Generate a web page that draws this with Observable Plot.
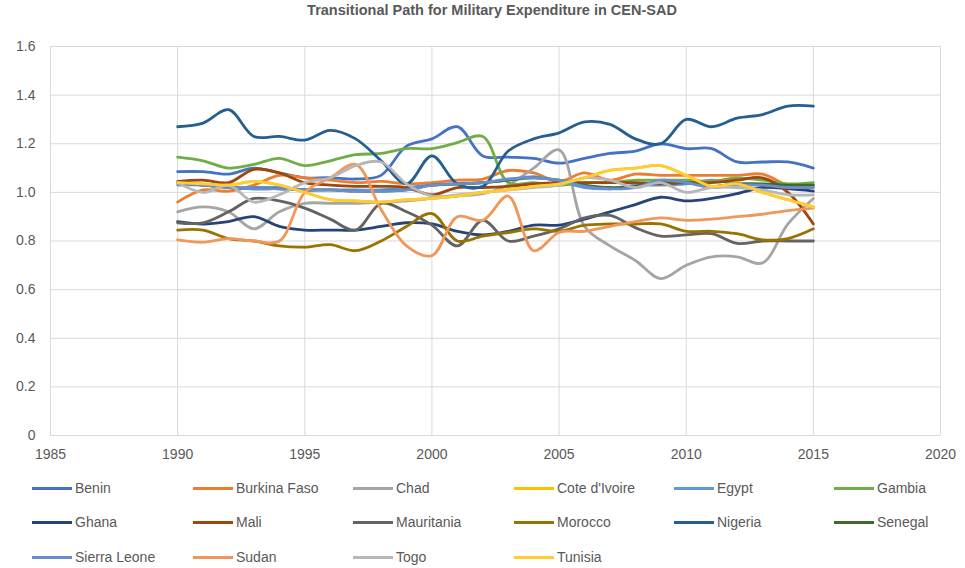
<!DOCTYPE html>
<html>
<head>
<meta charset="utf-8">
<script src="https://cdn.jsdelivr.net/npm/d3@7"></script>
<script src="https://cdn.jsdelivr.net/npm/@observablehq/plot@0.6"></script>
<style>
  body { margin: 0; background: #fff; font-family: "Liberation Sans", Arial, sans-serif; }
  #wrap { position: relative; width: 965px; height: 568px; }
  #title { position: absolute; top: 2px; left: 0; width: 984px; text-align: center; font-weight: bold; font-size: 14.5px; color: #595959; }
  #chart { position: absolute; top: 25px; left: 0; }
  .leg { position: absolute; display: flex; align-items: center; font-size: 14px; color: #595959; white-space: nowrap; }
  .leg span.sw { display: inline-block; width: 40px; height: 3px; margin-right: 3px; }
</style>
</head>
<body>
<div id="wrap">
  <div id="title">Transitional Path for Military Expenditure in CEN-SAD</div>
  <div id="chart"></div>
  <div id="legend"></div>
</div>
<script>
const years = [1990,1991,1992,1993,1994,1995,1996,1997,1998,1999,2000,2001,2002,2003,2004,2005,2006,2007,2008,2009,2010,2011,2012,2013,2014,2015];
const xTicks = [1985,1990,1995,2000,2005,2010,2015,2020];
const yTicks = [0,0.2,0.4,0.6,0.8,1.0,1.2,1.4,1.6];

const countries = ["Benin","Burkina Faso","Chad","Cote d'Ivoire","Egypt","Gambia","Ghana","Mali","Mauritania","Morocco","Nigeria","Senegal","Sierra Leone","Sudan","Togo","Tunisia"];
const colors = ["#4472C4","#ED7D31","#A5A5A5","#FFC000","#5B9BD5","#70AD47","#264478","#9E480E","#636363","#997300","#255E91","#43682B","#698ED0","#F1975A","#B7B7B7","#FFCD33"];

const benin       = [1.085,1.085,1.075,1.1,1.08,1.06,1.06,1.055,1.07,1.19,1.22,1.27,1.15,1.145,1.14,1.12,1.14,1.16,1.17,1.2,1.18,1.18,1.125,1.125,1.125,1.1];
const burkinaFaso = [0.96,1.01,1.005,1.03,1.07,1.06,1.05,1.04,1.045,1.035,1.04,1.05,1.055,1.09,1.08,1.045,1.08,1.05,1.075,1.07,1.07,1.07,1.07,1.075,1.03,1.02];
const chad        = [0.92,0.94,0.92,0.85,0.92,0.955,0.955,0.955,0.96,0.965,0.975,0.985,0.995,1.03,1.1,1.175,0.86,0.78,0.72,0.645,0.7,0.735,0.735,0.71,0.87,0.975];
const coteDIvoire = [1.04,1.035,1.03,1.045,1.03,1.0,0.97,0.965,0.96,0.97,0.975,0.985,1.0,1.01,1.025,1.035,1.06,1.09,1.1,1.11,1.07,1.025,1.035,1.0,0.97,0.94];
const egypt       = [1.03,1.03,1.02,1.02,1.02,1.01,1.01,1.01,1.01,1.02,1.03,1.035,1.04,1.05,1.065,1.045,1.02,1.015,1.03,1.03,1.035,1.05,1.035,1.03,1.03,1.03];
const gambia      = [1.145,1.13,1.1,1.115,1.14,1.11,1.13,1.155,1.16,1.18,1.18,1.205,1.23,1.04,1.04,1.03,1.04,1.04,1.05,1.05,1.05,1.045,1.06,1.05,1.035,1.04];
const ghana       = [0.88,0.87,0.88,0.9,0.86,0.845,0.845,0.845,0.86,0.875,0.87,0.84,0.825,0.84,0.865,0.865,0.89,0.92,0.95,0.98,0.965,0.975,0.995,1.02,1.015,1.005];
const mali        = [1.045,1.05,1.04,1.095,1.08,1.04,1.03,1.025,1.025,1.02,0.99,1.02,1.02,1.025,1.035,1.04,1.04,1.04,1.04,1.035,1.04,1.04,1.05,1.06,1.0,0.87];
const mauritania  = [0.875,0.875,0.92,0.975,0.965,0.935,0.89,0.845,0.955,0.92,0.865,0.78,0.885,0.8,0.82,0.85,0.895,0.905,0.855,0.82,0.825,0.83,0.79,0.8,0.8,0.8];
const morocco     = [0.845,0.845,0.81,0.8,0.78,0.775,0.785,0.76,0.8,0.86,0.913,0.8,0.82,0.835,0.85,0.84,0.865,0.87,0.87,0.87,0.84,0.84,0.83,0.805,0.81,0.85];
const nigeria     = [1.27,1.285,1.34,1.23,1.23,1.215,1.255,1.22,1.13,1.035,1.15,1.035,1.025,1.17,1.22,1.245,1.29,1.28,1.22,1.2,1.3,1.27,1.305,1.32,1.355,1.355];
const senegal     = [1.04,1.03,1.02,1.015,1.015,1.01,1.01,1.005,1.005,1.01,1.03,1.035,1.04,1.05,1.06,1.05,1.03,1.02,1.025,1.045,1.04,1.025,1.035,1.035,1.03,1.03];
const sierraLeone = [1.04,1.03,1.02,1.015,1.015,1.01,1.01,1.005,1.005,1.01,1.03,1.035,1.04,1.055,1.06,1.05,1.025,1.015,1.02,1.05,1.04,1.02,1.03,1.03,1.02,1.02];
const sudan       = [0.805,0.795,0.81,0.8,0.8,1.0,1.06,1.115,0.93,0.78,0.74,0.9,0.885,0.985,0.76,0.835,0.84,0.86,0.88,0.895,0.885,0.89,0.9,0.91,0.925,0.935];
const togo        = [1.04,1.0,1.03,0.96,0.99,1.04,1.06,1.11,1.125,1.035,0.985,0.99,1.0,1.01,1.02,1.03,1.06,1.05,1.02,1.04,1.0,1.02,1.02,1.01,0.99,0.99];
const tunisia     = [1.04,1.035,1.03,1.045,1.03,1.0,0.97,0.965,0.96,0.97,0.975,0.985,1.0,1.01,1.025,1.035,1.06,1.09,1.1,1.11,1.07,1.025,1.035,1.0,0.97,0.94];

const series = [benin,burkinaFaso,chad,coteDIvoire,egypt,gambia,ghana,mali,mauritania,morocco,nigeria,senegal,sierraLeone,sudan,togo,tunisia];

const data = [];
countries.forEach((c, i) => {
  years.forEach((yr, j) => data.push({country: c, year: yr, value: series[i][j]}));
});

const font = "'Liberation Sans', Arial, sans-serif";
const chart = Plot.plot({
  width: 965,
  height: 450,
  marginLeft: 50,
  marginRight: 25,
  marginTop: 21,
  marginBottom: 40,
  style: {fontFamily: font, fontSize: "14px", color: "#595959", background: "#fff"},
  x: {domain: [1985, 2020], label: null},
  y: {domain: [0, 1.6], label: null},
  color: {domain: countries, range: colors},
  marks: [
    Plot.gridX(xTicks, {stroke: "#d9d9d9", strokeOpacity: 1, strokeWidth: 1}),
    Plot.gridY(yTicks, {stroke: "#d9d9d9", strokeOpacity: 1, strokeWidth: 1}),
    Plot.axisX(xTicks, {tickSize: 0, tickPadding: 14, tickFormat: d => String(d), fill: "#595959", fontSize: 14, label: null}),
    Plot.axisY(yTicks, {tickSize: 0, tickPadding: 15, tickFormat: d => d === 0 ? "0" : d.toFixed(1), fill: "#595959", fontSize: 14, label: null}),
    Plot.line(data, {x: "year", y: "value", z: "country", stroke: "country", strokeWidth: 2.8, curve: "catmull-rom", strokeLinecap: "round", strokeLinejoin: "round"})
  ]
});
document.getElementById("chart").appendChild(chart);

// legend
const legend = document.getElementById("legend");
const colX = [32, 193, 353, 514, 674, 834];
const rowY = [488, 522, 557];
countries.forEach((c, i) => {
  const r = Math.floor(i / 6), k = i % 6;
  const d = document.createElement("div");
  d.className = "leg";
  d.style.left = colX[k] + "px";
  d.style.top = (rowY[r] - 9) + "px";
  d.style.height = "18px";
  const sw = document.createElement("span");
  sw.className = "sw";
  sw.style.background = colors[i];
  d.appendChild(sw);
  d.appendChild(document.createTextNode(c));
  legend.appendChild(d);
});
</script>
</body>
</html>
